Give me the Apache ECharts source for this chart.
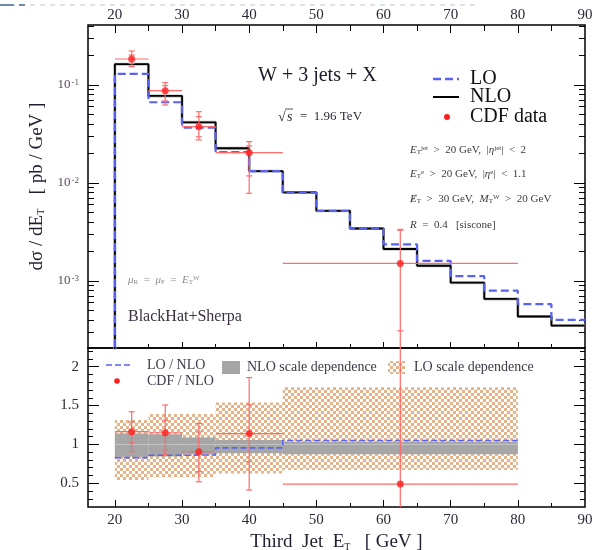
<!DOCTYPE html>
<html>
<head>
<meta charset="utf-8">
<script src="https://cdn.jsdelivr.net/npm/echarts@6/dist/echarts.min.js"></script>
<style>
html, body { margin: 0; padding: 0; background: #fff; }
#chart { width: 599px; height: 550px; }
</style>
</head>
<body>
<div id="chart"></div>
<script>
// ---- theory histograms, d(sigma)/dE_T of the third jet [pb/GeV] ----
const binEdges = [20, 25, 30, 35, 40, 45, 50, 55, 60, 65, 70, 75, 80, 85, 90];
const nloXsec = [0.163, 0.0773, 0.0416, 0.0226, 0.0132, 0.0080, 0.0052, 0.00343, 0.00212, 0.00143, 0.00096, 0.000656, 0.000434, 0.000351];
const loXsec  = [0.130, 0.0666, 0.0366, 0.0206, 0.0132, 0.0079, 0.0052, 0.00343, 0.00236, 0.00160, 0.00112, 0.000796, 0.00058, 0.000401];

// ---- CDF measurement ----
const cdfEdges  = [20, 25, 30, 35, 45, 80];
const cdfCenter = [22.5, 27.5, 32.5, 40, 62.5];
const cdfXsec   = [0.184, 0.0874, 0.0375, 0.0204, 0.00151];
const cdfTotLo  = [0.154, 0.0625, 0.0275, 0.00785, 0.00001];
const cdfTotHi  = [0.222, 0.1055, 0.0534, 0.0264, 0.00336];
const cdfStatLo = [0.166, 0.0687, 0.0296, 0.0118, 0.00031];
const cdfStatHi = [0.202, 0.0984, 0.0475, 0.0239, 0.00330];

// ---- ratios to NLO, in the CDF binning ----
const loOverNlo     = [0.830, 0.860, 0.865, 0.955, 1.050];
const nloScaleLo    = [0.840, 0.845, 0.875, 0.885, 0.873];
const nloScaleHi    = [1.140, 1.130, 1.090, 1.057, 1.035];
const loScaleLo     = [0.542, 0.577, 0.577, 0.625, 0.670];
const loScaleHi     = [1.314, 1.390, 1.390, 1.540, 1.735];
const cdfOverNlo    = [1.164, 1.150, 0.906, 1.140, 0.490];
const cdfRatTotLo   = [0.906, 0.870, 0.520, 0.413, -1.0];
const cdfRatTotHi   = [1.420, 1.507, 1.270, 1.860, 3.0];
const cdfRatStatLo  = [1.020, 0.930, 0.650, 0.780, -1.0];
const cdfRatStatHi  = [1.290, 1.310, 1.160, 1.510, 3.0];

// ---- axes ----
const xLabelTicks = [20, 30, 40, 50, 60, 70, 80, 90];
const xMajorTicks = [20, 30, 40, 50, 60, 70, 80];
const xMinorTicks = [25, 35, 45, 55, 65, 75, 85];
const decadeTicks = [-3, -2, -1];          // log10 of 1e-3, 1e-2, 1e-1
const ratioLabels = [0.5, 1, 1.5, 2];
const ratioMinor  = [0.3, 0.4, 0.6, 0.7, 0.8, 0.9, 1.1, 1.2, 1.3, 1.4, 1.6, 1.7, 1.8, 1.9, 2.1, 2.2];

const seriesNames = { lo: 'LO', nlo: 'NLO', cdf: 'CDF data', loR: 'LO / NLO', cdfR: 'CDF / NLO',
                      nloBand: 'NLO scale dependence', loBand: 'LO scale dependence' };

const SERIF = '"Liberation Serif", "DejaVu Serif", serif';
const BLUE = '#5a62f2';
const ERR_RED = '#ff6a6a';
const DOT_RED = '#ff1e1e';
const GRAY = '#a6a6a6';
const CHECK = '#e3b48b';

const Y_MIN = -3.684, Y_MAX = -0.388;      // log10 range of the upper panel
const R_MIN = 0.195, R_MAX = 2.24;          // ratio panel range

const lg = Math.log10;

// log-axis minor ticks: 2..9 x 10^n inside the range
const logMinor = [];
[-4, -3, -2, -1].forEach(d => {
  for (let k = 2; k <= 9; k++) {
    const v = d + lg(k);
    if (v > Y_MIN && v < Y_MAX) logMinor.push(v);
  }
});

// checkerboard tile for the LO band
const tile = document.createElement('canvas');
tile.width = 6; tile.height = 6;
const tg = tile.getContext('2d');
tg.fillStyle = '#ffffff'; tg.fillRect(0, 0, 6, 6);
tg.fillStyle = CHECK; tg.fillRect(0, 0, 3, 3); tg.fillRect(3, 3, 3, 3);
const checkerFill = { image: tile, repeat: 'repeat' };

// step outline of a histogram
function histPoints(edges, vals, tr, floor) {
  const pts = [];
  if (floor !== undefined) pts.push([edges[0], floor]);
  vals.forEach((v, i) => { pts.push([edges[i], tr(v)], [edges[i + 1], tr(v)]); });
  return pts;
}
const ident = v => v;

function bandData(lo, hi) {
  return lo.map((l, i) => [cdfEdges[i], cdfEdges[i + 1], l, hi[i]]);
}

function renderBand(fill) {
  return function (params, api) {
    const p0 = api.coord([api.value(0), api.value(3)]);
    const p1 = api.coord([api.value(1), api.value(2)]);
    return { type: 'rect', shape: { x: p0[0], y: p0[1], width: p1[0] - p0[0], height: p1[1] - p0[1] },
             style: { fill: fill } };
  };
}

const CAP = 3;
function renderErrorBar(params, api) {
  const x = api.value(0), y = api.value(3);
  const l = api.coord([api.value(1), y]), r = api.coord([api.value(2), y]);
  const lo = api.coord([x, api.value(4)]), hi = api.coord([x, api.value(5)]);
  const s1 = api.coord([x, api.value(6)]), s2 = api.coord([x, api.value(7)]);
  const st = { stroke: ERR_RED, lineWidth: 1.2 };
  const seg = (x1, y1, x2, y2) => ({ type: 'line', shape: { x1, y1, x2, y2 }, style: st });
  return { type: 'group', children: [
    seg(l[0], l[1], r[0], r[1]),
    seg(lo[0], lo[1], hi[0], hi[1]),
    seg(s1[0] - CAP, s1[1], s1[0] + CAP, s1[1]),
    seg(s2[0] - CAP, s2[1], s2[0] + CAP, s2[1]),
    seg(lo[0] - CAP, lo[1], lo[0] + CAP, lo[1]),
    seg(hi[0] - CAP, hi[1], hi[0] + CAP, hi[1])
  ] };
}

const topErr = cdfCenter.map((x, i) => [x, cdfEdges[i], cdfEdges[i + 1], lg(cdfXsec[i]),
  lg(cdfTotLo[i]), lg(cdfTotHi[i]), lg(cdfStatLo[i]), lg(cdfStatHi[i])]);
const ratioErr = cdfCenter.map((x, i) => [x, cdfEdges[i], cdfEdges[i + 1], cdfOverNlo[i],
  cdfRatTotLo[i], cdfRatTotHi[i], cdfRatStatLo[i], cdfRatStatHi[i]]);

// ---- axis helpers ----
const tickLine = { color: '#000', width: 1 };
function xAx(grid, pos, ticks, len, labels) {
  return {
    type: 'value', gridIndex: grid, position: pos, min: 16, max: 90,
    axisLine: { show: false, onZero: false }, splitLine: { show: false },
    axisTick: { show: true, inside: true, length: len, customValues: ticks, lineStyle: tickLine },
    axisLabel: labels ? { show: true, customValues: labels, margin: pos === 'top' ? 2 : 6,
      fontFamily: SERIF, fontSize: 15, color: '#2a2a38' } : { show: false }
  };
}
function yAx(grid, pos, min, max, ticks, len, labels, extra) {
  return {
    type: 'value', gridIndex: grid, position: pos, min: min, max: max,
    axisLine: { show: false, onZero: false }, splitLine: { show: false },
    axisTick: { show: true, inside: true, length: len, customValues: ticks, lineStyle: tickLine },
    axisLabel: labels ? Object.assign({ show: true, customValues: labels, margin: 9,
      fontFamily: SERIF, fontSize: 15, color: '#2a2a38' }, extra || {}) : { show: false }
  };
}

const decadeLabel = {
  color: '#5a4a60',
  formatter: v => '{b|10}{e|' + Math.round(v) + '}',
  rich: {
    b: { fontFamily: SERIF, fontSize: 13, color: '#5a4a60' },
    e: { fontFamily: SERIF, fontSize: 9, color: '#5a4a60', verticalAlign: 'top', padding: [0, 0, 0, 1] }
  }
};

const xAxes = [
  xAx(0, 'top', xMajorTicks, 8, xLabelTicks),
  xAx(0, 'top', xMinorTicks, 6),
  xAx(0, 'bottom', xMajorTicks, 6),
  xAx(0, 'bottom', xMinorTicks, 4),
  xAx(1, 'bottom', xMajorTicks, 7, xLabelTicks),
  xAx(1, 'bottom', xMinorTicks, 4)
];
xAxes[4].name = 'Third  Jet  E{sub|T}   [ GeV ]';
xAxes[4].nameLocation = 'middle';
xAxes[4].nameGap = 26;
xAxes[4].nameTextStyle = { fontFamily: SERIF, fontSize: 19, color: '#1e1e30',
  rich: { sub: { fontFamily: SERIF, fontSize: 10, color: '#1e1e30', verticalAlign: 'bottom' } } };

const yAxes = [
  yAx(0, 'left', Y_MIN, Y_MAX, decadeTicks, 11, decadeTicks, decadeLabel),
  yAx(0, 'left', Y_MIN, Y_MAX, logMinor, 6),
  yAx(0, 'right', Y_MIN, Y_MAX, decadeTicks, 11),
  yAx(0, 'right', Y_MIN, Y_MAX, logMinor, 6),
  yAx(1, 'left', R_MIN, R_MAX, ratioLabels, 11, ratioLabels),
  yAx(1, 'left', R_MIN, R_MAX, ratioMinor, 5),
  yAx(1, 'right', R_MIN, R_MAX, ratioLabels, 11),
  yAx(1, 'right', R_MIN, R_MAX, ratioMinor, 5)
];
yAxes[0].name = 'd\u03c3 / dE{sub|T}   [ pb / GeV ]';
yAxes[0].nameLocation = 'middle';
yAxes[0].nameRotate = 90;
yAxes[0].nameGap = 41;
yAxes[0].nameTextStyle = { fontFamily: SERIF, fontSize: 19, color: '#1e1e30',
  rich: { sub: { fontFamily: SERIF, fontSize: 10, color: '#1e1e30', verticalAlign: 'bottom' } } };

// ---- annotations ----
const txt = (x, y, text, size, color, extra) => ({
  type: 'text', x: x, y: y, silent: true,
  style: Object.assign({ text: text, font: size + 'px ' + SERIF, fill: color,
    textAlign: 'left', textVerticalAlign: 'middle' }, extra || {})
});
const small = 11;
const cutRich = {
  i: { fontFamily: SERIF, fontSize: small, fontStyle: 'italic', fill: '#3a3a44' },
  sub: { fontFamily: SERIF, fontSize: 7, fill: '#3a3a44', verticalAlign: 'bottom' },
  sup: { fontFamily: SERIF, fontSize: 7, fill: '#3a3a44', verticalAlign: 'top' }
};
const muRich = {
  i: { fontFamily: SERIF, fontSize: small, fontStyle: 'italic', fill: '#8a8a90' },
  sub: { fontFamily: SERIF, fontSize: 7, fill: '#8a8a90', verticalAlign: 'bottom' },
  sup: { fontFamily: SERIF, fontSize: 7, fill: '#8a8a90', verticalAlign: 'top' }
};

const graphics = [
  // dashed rule along the top of the page
  { type: 'line', silent: true, shape: { x1: 0, y1: 5, x2: 480, y2: 5 },
    style: { stroke: '#b9c6d4', lineWidth: 1, lineDash: [5, 5] } },
  { type: 'line', silent: true, shape: { x1: 0, y1: 5, x2: 14, y2: 5 },
    style: { stroke: '#6f8aa6', lineWidth: 2 } },
  { type: 'line', silent: true, shape: { x1: 19, y1: 5, x2: 25, y2: 5 },
    style: { stroke: '#6f8aa6', lineWidth: 2 } },

  txt(258, 76, 'W + 3 jets + X', 20, '#1a1a2a'),
  txt(278, 117, '\u221a', 14, '#2a2a38'),
  { type: 'line', silent: true, shape: { x1: 285, y1: 109, x2: 293, y2: 109 },
    style: { stroke: '#2a2a38', lineWidth: 0.8 } },
  txt(287, 117, 's', 14, '#2a2a38', { font: 'italic 14px ' + SERIF }),
  txt(300, 117, '=  1.96 TeV', 13, '#2a2a38'),

  // upper legend
  { type: 'line', silent: true, shape: { x1: 433, y1: 79, x2: 459, y2: 79 },
    style: { stroke: BLUE, lineWidth: 2.5, lineDash: [8, 4] } },
  txt(470, 79, seriesNames.lo, 20, '#111'),
  { type: 'line', silent: true, shape: { x1: 433, y1: 97, x2: 459, y2: 97 },
    style: { stroke: '#000', lineWidth: 2 } },
  txt(470, 97, seriesNames.nlo, 20, '#111'),
  { type: 'circle', silent: true, shape: { cx: 447, cy: 117, r: 3 }, style: { fill: DOT_RED } },
  txt(470, 117, seriesNames.cdf, 20, '#111'),

  // selection cuts
  txt(410, 150, '{i|E}{sub|T}{sup|jet}  >  20 GeV,  |{i|\u03b7}{sup|jet}|  <  2', small, '#3a3a44', { rich: cutRich }),
  txt(410, 174, '{i|E}{sub|T}{sup|e}  >  20 GeV,  |{i|\u03b7}{sup|e}|  <  1.1', small, '#3a3a44', { rich: cutRich }),
  txt(410, 199, '{i|\u0246}{sub|T}  >  30 GeV,  {i|M}{sub|T}{sup|W}  >  20 GeV', small, '#3a3a44', { rich: cutRich }),
  txt(410, 225, '{i|R}  =  0.4   [siscone]', small, '#3a3a44', { rich: cutRich }),

  txt(128, 280, '{i|\u03bc}{sub|R}  =  {i|\u03bc}{sub|F}  =  {i|E}{sub|T}{sup|W}', small, '#8a8a90', { rich: muRich }),
  txt(128, 317, 'BlackHat+Sherpa', 16, '#3a3040'),

  // lower legend
  { type: 'line', silent: true, shape: { x1: 106, y1: 365, x2: 131, y2: 365 },
    style: { stroke: BLUE, lineWidth: 1.6, lineDash: [6, 3] } },
  txt(147, 365, seriesNames.loR, 14, '#3a3a48'),
  { type: 'circle', silent: true, shape: { cx: 117, cy: 381, r: 2.8 }, style: { fill: DOT_RED } },
  txt(147, 381, seriesNames.cdfR, 14, '#3a3a48'),
  { type: 'rect', silent: true, shape: { x: 222, y: 361, width: 18, height: 13 }, style: { fill: GRAY } },
  txt(247, 367, seriesNames.nloBand, 14, '#3a3a48'),
  { type: 'rect', silent: true, shape: { x: 388, y: 361, width: 17, height: 13 }, style: { fill: checkerFill } },
  txt(414, 367, seriesNames.loBand, 14, '#3a3a48')
];

const option = {
  animation: false,
  backgroundColor: '#fff',
  grid: [
    { left: 88, top: 25, width: 497, height: 323, show: true, borderColor: '#000', borderWidth: 1.5,
      backgroundColor: 'transparent', containLabel: false, outerBoundsMode: 'none' },
    { left: 88, top: 348, width: 497, height: 159, show: true, borderColor: '#000', borderWidth: 1.5,
      backgroundColor: 'transparent', containLabel: false, outerBoundsMode: 'none' }
  ],
  xAxis: xAxes,
  yAxis: yAxes,
  graphic: graphics,
  series: [
    // ---- upper panel ----
    { name: seriesNames.nlo + ' band', type: 'line', xAxisIndex: 0, yAxisIndex: 0, clip: true,
      showSymbol: false, silent: true, z: 2,
      data: histPoints(binEdges, nloXsec, lg, -6),
      lineStyle: { color: '#b8b8b8', width: 3 } },
    { name: seriesNames.nlo, type: 'line', xAxisIndex: 0, yAxisIndex: 0, clip: true,
      showSymbol: false, silent: true, z: 3,
      data: histPoints(binEdges, nloXsec, lg, -6),
      lineStyle: { color: '#000', width: 1.8 } },
    { name: seriesNames.lo, type: 'line', xAxisIndex: 0, yAxisIndex: 0, clip: true,
      showSymbol: false, silent: true, z: 4,
      data: histPoints(binEdges, loXsec, lg, -6),
      lineStyle: { color: BLUE, width: 2.2, type: [8, 4] } },
    { name: seriesNames.cdf + ' errors', type: 'custom', xAxisIndex: 0, yAxisIndex: 0, clip: true,
      silent: true, z: 5, renderItem: renderErrorBar, data: topErr },
    { name: seriesNames.cdf, type: 'scatter', xAxisIndex: 0, yAxisIndex: 0, silent: true, z: 6,
      symbol: 'circle', symbolSize: 7, itemStyle: { color: DOT_RED },
      data: cdfCenter.map((x, i) => [x, lg(cdfXsec[i])]) },

    // ---- ratio panel ----
    { name: seriesNames.loBand, type: 'custom', xAxisIndex: 4, yAxisIndex: 4, clip: true,
      silent: true, z: 1, renderItem: renderBand(checkerFill), data: bandData(loScaleLo, loScaleHi) },
    { name: seriesNames.nloBand, type: 'custom', xAxisIndex: 4, yAxisIndex: 4, clip: true,
      silent: true, z: 2, renderItem: renderBand(GRAY), data: bandData(nloScaleLo, nloScaleHi) },
    { name: 'NLO / NLO', type: 'line', xAxisIndex: 4, yAxisIndex: 4, showSymbol: false, silent: true, z: 3,
      data: [[cdfEdges[0], 1], [cdfEdges[cdfEdges.length - 1], 1]],
      lineStyle: { color: '#c6c6c6', width: 1 } },
    { name: seriesNames.loR, type: 'line', xAxisIndex: 4, yAxisIndex: 4, clip: true,
      showSymbol: false, silent: true, z: 4,
      data: histPoints(cdfEdges, loOverNlo, ident),
      lineStyle: { color: BLUE, width: 1.6, type: [6, 3] } },
    { name: seriesNames.cdfR + ' errors', type: 'custom', xAxisIndex: 4, yAxisIndex: 4, clip: true,
      silent: true, z: 5, renderItem: renderErrorBar, data: ratioErr },
    { name: seriesNames.cdfR, type: 'scatter', xAxisIndex: 4, yAxisIndex: 4, silent: true, z: 6,
      symbol: 'circle', symbolSize: 7, itemStyle: { color: DOT_RED },
      data: cdfCenter.map((x, i) => [x, cdfOverNlo[i]]) }
  ]
};

const chart = echarts.init(document.getElementById('chart'));
chart.setOption(option);
</script>
</body>
</html>
